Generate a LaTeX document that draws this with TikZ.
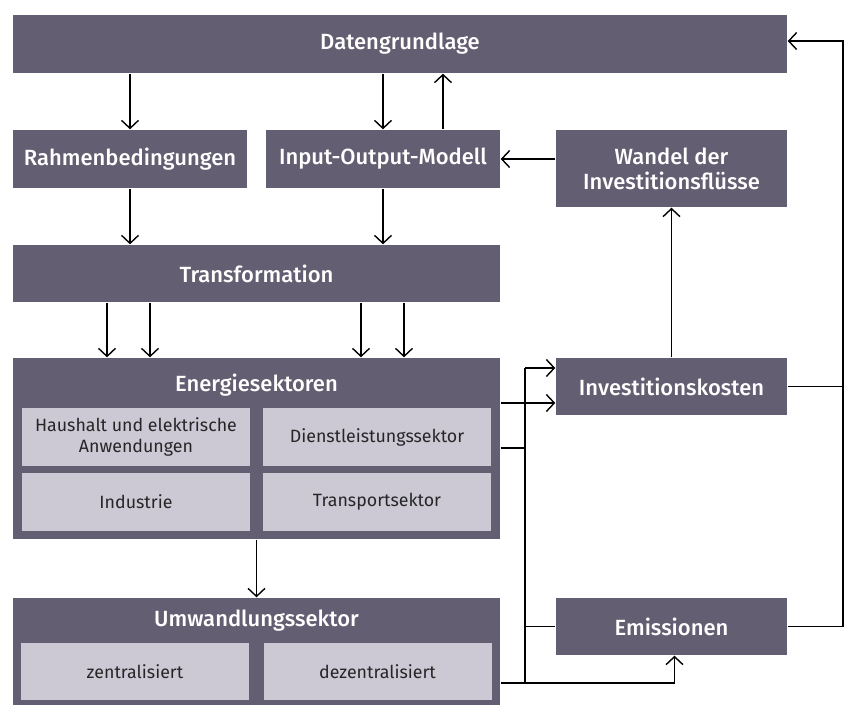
\documentclass[tikz,border=0pt]{standalone}
\usepackage{fontspec}
\setmainfont{Fira Sans}[BoldFont={Fira Sans Medium}]
\usetikzlibrary{arrows.meta}
\definecolor{boxdark}{RGB}{99,94,113}
\definecolor{boxlight}{RGB}{204,201,213}
\tikzset{>/.tip={Straight Barb[length=8pt,width=17pt]},
  darkbox/.style={fill=boxdark, text=white, inner sep=0pt, align=center,
    font=\fontsize{22}{25}\selectfont\bfseries},
  titletext/.style={text=white, inner sep=0pt,
    font=\fontsize{22}{25}\selectfont\bfseries},
  lightbox/.style={fill=boxlight, text=black!85, inner sep=0pt, align=center,
    minimum width=228, minimum height=58, font=\fontsize{17.8}{20.5}\selectfont}}

\begin{document}
\begin{tikzpicture}[x=1pt,y=-1pt,line width=1.4pt]
\useasboundingbox (0,0) rectangle (854,705);

\node[darkbox, minimum width=774, minimum height=58] (daten) at (400,44) {Datengrundlage};
\node[darkbox, minimum width=234, minimum height=58] (rahmen) at (130,159) {Rahmenbedingungen};
\node[darkbox, minimum width=234, minimum height=58] (io) at (383,159) {Input-Output-Modell};
\node[darkbox, minimum width=231, minimum height=77] (wandel) at (671.5,168.5) {Wandel der\\Investitionsflüsse};
\node[darkbox, minimum width=487, minimum height=57] (trans) at (256.5,273.5) {Transformation};

\node[darkbox, minimum width=487, minimum height=181] (energie) at (256.5,448.5) {};
\node[titletext] (energietitel) at (256.5,385) {Energiesektoren};
\node[lightbox] (haushalt) at (136,437) {Haushalt und elektrische\\Anwendungen};
\node[lightbox] (dienst) at (377,437) {Dienstleistungssektor};
\node[lightbox] (industrie) at (136,502) {Industrie};
\node[lightbox] (transport) at (377,502) {Transportsektor};

\node[darkbox, minimum width=487, minimum height=107] (umwandlung) at (256.5,651.5) {};
\node[titletext] (umwandlungtitel) at (256.5,621) {Umwandlungssektor};
\node[lightbox, minimum height=57] (zentral) at (135,671.5) {zentralisiert};
\node[lightbox, minimum height=57] (dezentral) at (377.5,671.5) {dezentralisiert};

\node[darkbox, minimum width=231, minimum height=57] (invest) at (671.5,386.5) {Investitionskosten};
\node[darkbox, minimum width=231, minimum height=57] (emiss) at (671.5,626.5) {Emissionen};

\coordinate (bus1) at (525,368);
\coordinate (bus2) at (525,683);
\coordinate (rbus) at (843,41);

\draw[->] (daten.south -| rahmen) to (rahmen.north);
\draw[->] (daten.south -| io) to (io.north);
\draw[->] ([xshift=60]io.north) to ([xshift=60]io.north |- daten.south);
\draw[->] (wandel.west |- io) to (io.east);
\draw[->] (rahmen.south) to (rahmen.south |- trans.north);
\draw[->] (io.south) to (io.south |- trans.north);
\foreach \x in {107,150,361,404}
{
  \draw[->] (\x,0 |- trans.south) to (\x,0 |- energie.north);
}
\draw[->] (energie.south) to (umwandlung.north);

\draw (bus1) to (bus2);
\draw[->] (bus1) to (bus1 -| invest.west);
\draw[->] (energie.east |- 0,403) to (invest.west |- 0,403);
\draw (energie.east |- 0,448) to (bus1 |- 0,448);
\draw (bus1 |- emiss) to (emiss.west);
\draw[->] (umwandlung.east |- bus2) -- ([xshift=3]emiss.south |- bus2) -- ([xshift=3]emiss.south);
\draw[->] (invest.north) to (wandel.south);

\draw (invest.east) to (invest.east -| rbus);
\draw[->] (emiss.east) -- (emiss.east -| rbus) -- (rbus) -- (rbus -| daten.east);
\end{tikzpicture}
\end{document}
